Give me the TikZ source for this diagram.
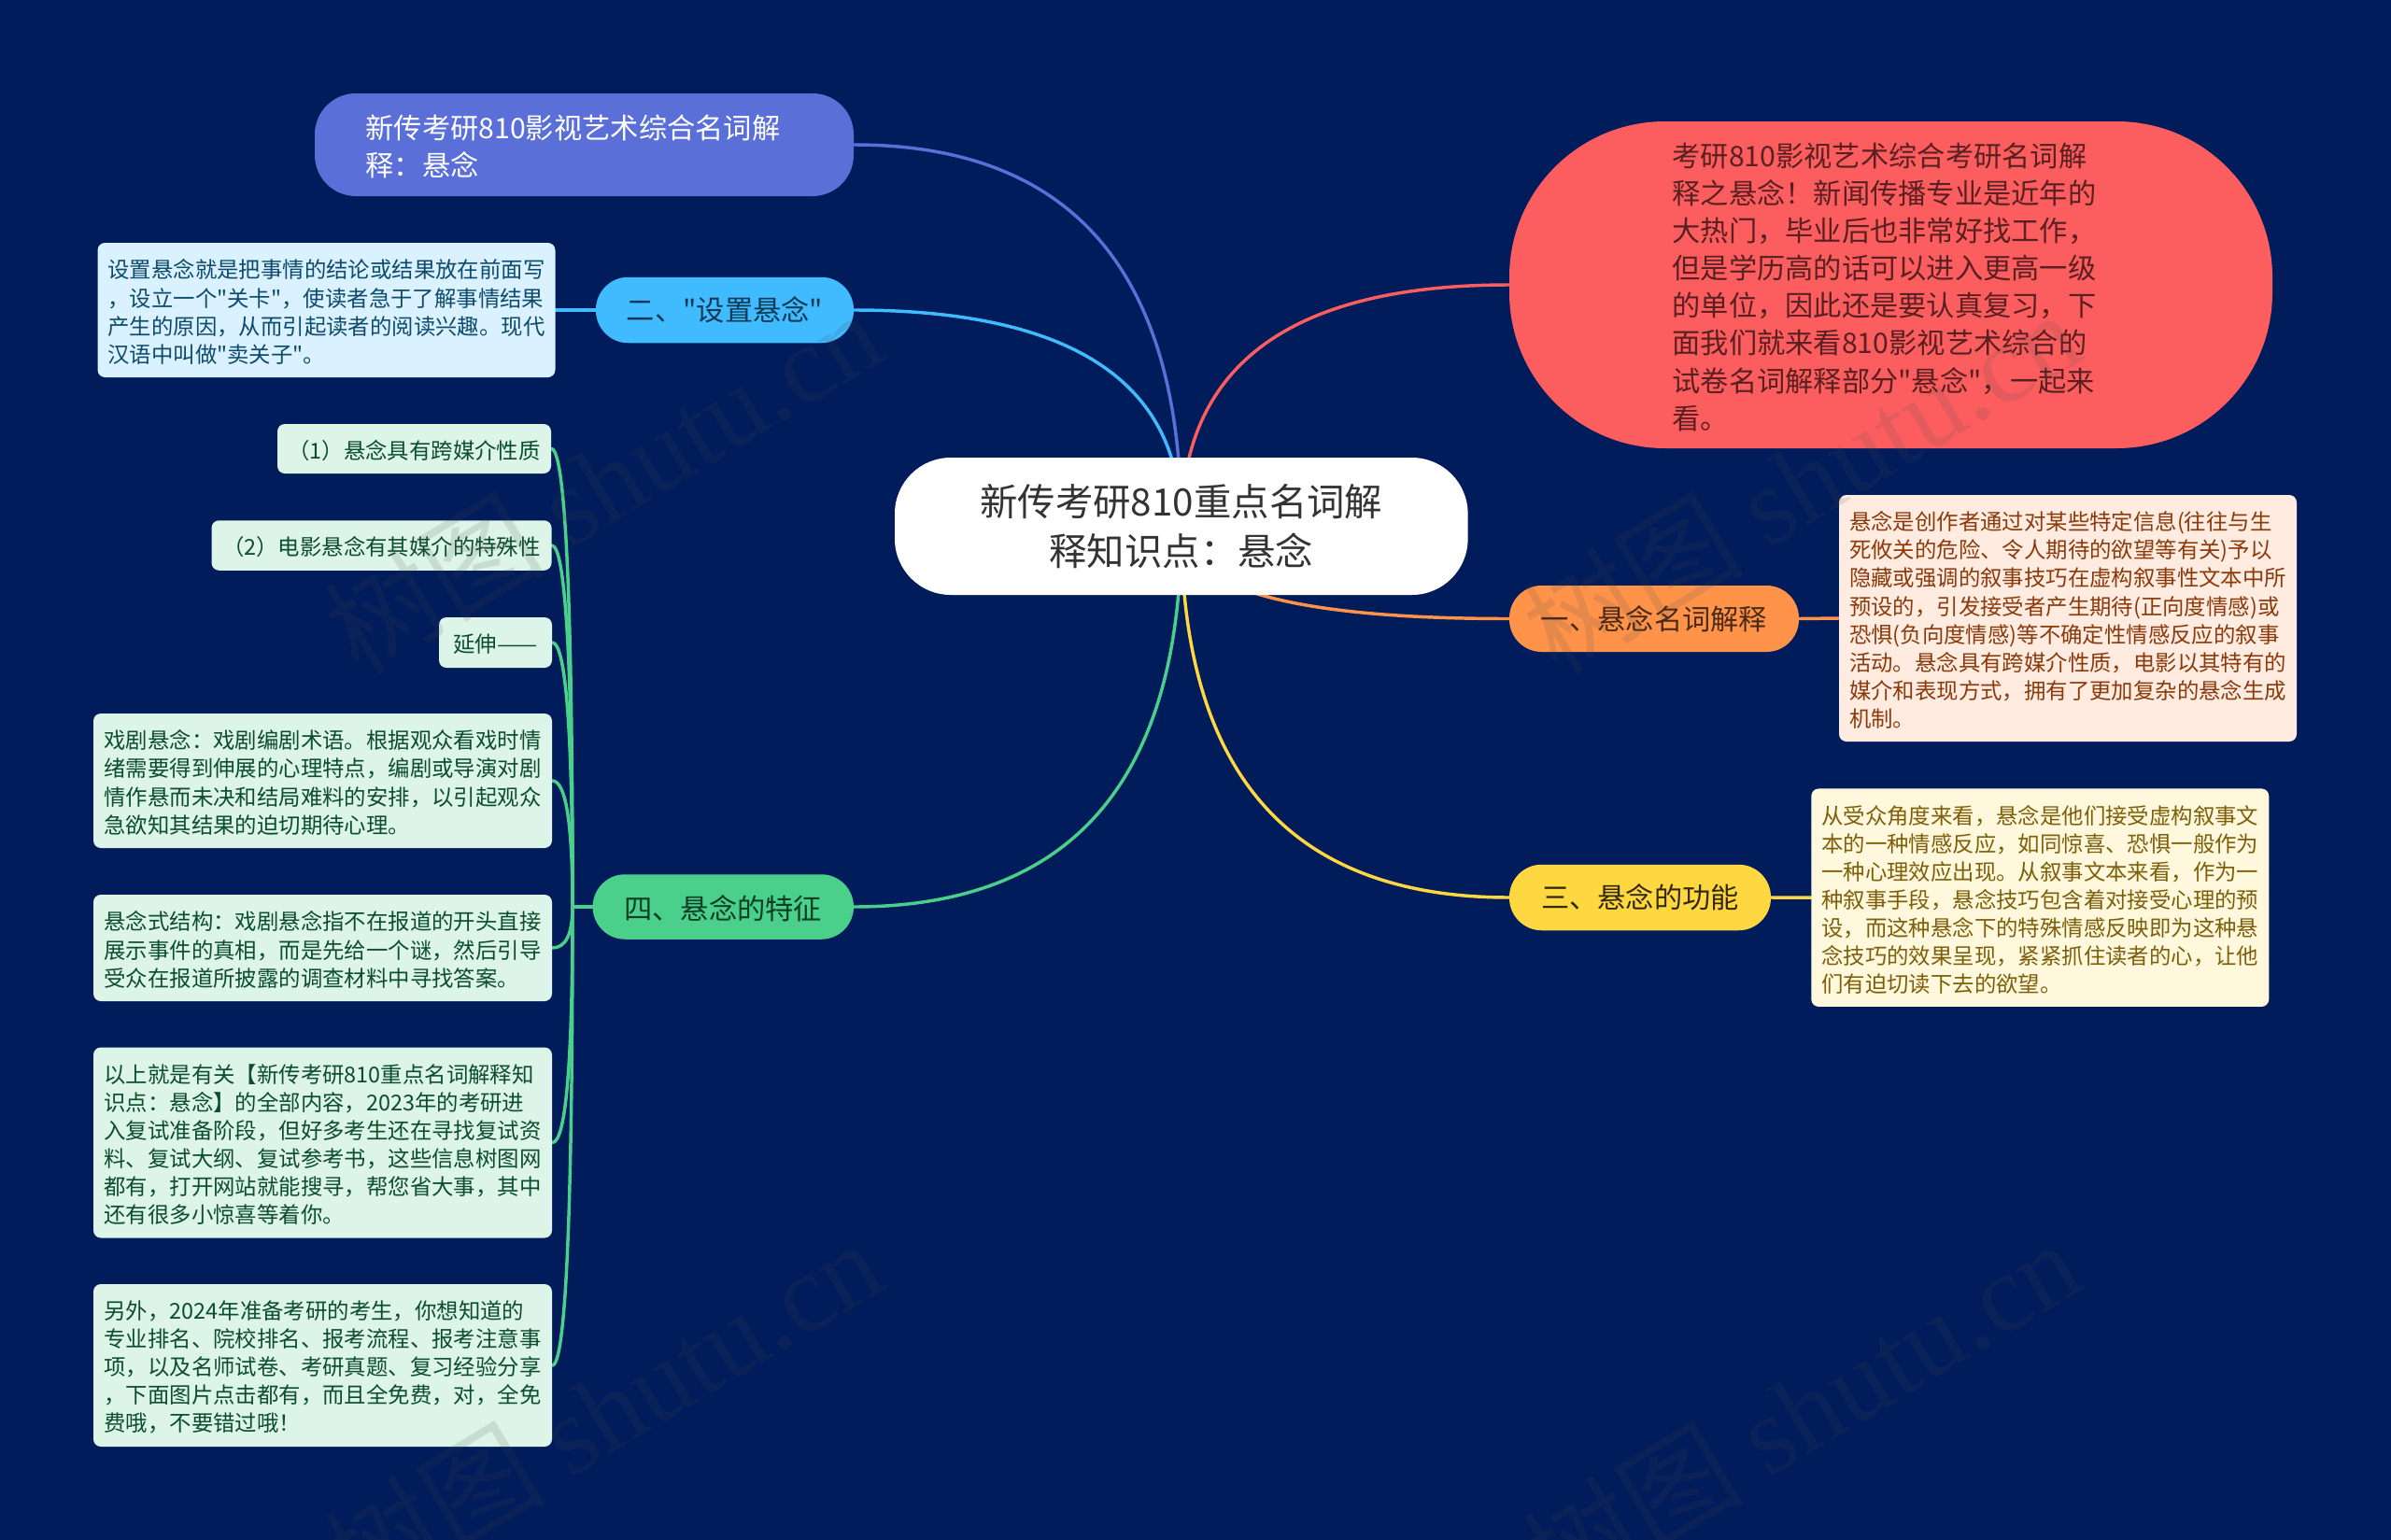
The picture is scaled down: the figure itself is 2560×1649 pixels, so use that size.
\documentclass[tikz,border=0pt]{standalone}
\usepackage{fontspec}
\setmainfont{Noto Sans CJK SC}[Ligatures=TeXOff]
\newfontfamily\wmlatin{Liberation Serif}
\usetikzlibrary{calc}
\pgfdeclarelayer{bg}
\pgfsetlayers{bg,main}
\definecolor{canvas}{HTML}{001C5A}
\definecolor{cTitle}{HTML}{5A6FD8}
\definecolor{cTwo}{HTML}{41BBFF}
\definecolor{cRed}{HTML}{FC5E5F}
\definecolor{cOrange}{HTML}{FF934A}
\definecolor{cYellow}{HTML}{FFD740}
\definecolor{cGreen}{HTML}{4BD08C}
\definecolor{bTwo}{HTML}{DAF2FF}
\definecolor{tTwo}{HTML}{0D4A6B}
\definecolor{bGreen}{HTML}{DDF5E8}
\definecolor{tGreen}{HTML}{0B4D2C}
\definecolor{bOrange}{HTML}{FFEBE0}
\definecolor{tOrange}{HTML}{8A3A0B}
\definecolor{bYellow}{HTML}{FFF8DC}
\definecolor{tYellow}{HTML}{7D5F0A}
\definecolor{mTwo}{HTML}{0E3A55}
\definecolor{mRed}{HTML}{5A1F20}
\definecolor{mOrange}{HTML}{4A2A14}
\definecolor{mYellow}{HTML}{33290A}
\definecolor{mGreen}{HTML}{0C3D25}
\definecolor{wmInk}{HTML}{4D4D4D}
\tikzset{
  sized/.style 2 args={minimum width=#1*0.75pt,minimum height=#2*0.75pt},
  base/.style={rectangle,inner sep=0pt,align=left},
  small/.style={base,rounded corners=6pt,font=\fontsize{17.55pt}{22.55pt}\selectfont},
  mid/.style={base,font=\fontsize{22.7pt}{30.1pt}\selectfont},
  wide/.style={text width=351pt},
  note/.style={small,wide},
  conn/.style={line width=2.6pt,line cap=round},
  qv/.style={to path={.. controls ($(\tikztostart)!.667!(\tikztostart|-\tikztotarget)$) and ($(\tikztotarget)!.667!(\tikztostart|-\tikztotarget)$) .. (\tikztotarget)}},
  wm/.style={rotate=31,text=wmInk,opacity=.14,inner sep=0pt,font=\fontsize{89pt}{89pt}\selectfont},
}
\newcommand{\wmtext}{树图 {\wmlatin shutu.cn}}
\newcommand{\upS}{\rule{0pt}{18pt}}
\newcommand{\upM}{\rule{0pt}{22.5pt}}
\begin{document}
\begin{tikzpicture}[x=0.75pt,y=-0.75pt]
\useasboundingbox (0,0) rectangle (2560,1649);
% central topic
\node[base,fill=white,sized={613.6}{147},rounded corners=45pt,align=center,text=black!80,font=\fontsize{30.3pt}{40.2pt}\selectfont] (root) at (1264.8,563.5) {新传考研810重点名词解\\释知识点：悬念};
% main branches
\node[mid,wide,fill=cTitle,sized={577}{110},rounded corners=33pt,text=white] (title) at (625.5,155) {\upM 新传考研810影视艺术综合名词解\\释：悬念};
\node[mid,fill=cTwo,sized={276}{70.5},rounded corners=26pt,text=mTwo] (two) at (776,332) {二、"设置悬念"};
\node[mid,wide,fill=cRed,sized={817}{350},rounded corners=125pt,text=mRed] (red) at (2024.5,305) {\upM 考研810影视艺术综合考研名词解\\释之悬念！新闻传播专业是近年的\\大热门，毕业后也非常好找工作，\\但是学历高的话可以进入更高一级\\的单位，因此还是要认真复习，下\\面我们就来看810影视艺术综合的\\试卷名词解释部分"悬念"，一起来\\看。};
\node[mid,fill=cOrange,sized={310}{71},rounded corners=26pt,text=mOrange] (one) at (1771,662.5) {一、悬念名词解释};
\node[mid,fill=cYellow,sized={280}{70.5},rounded corners=26pt,text=mYellow] (three) at (1756,961) {三、悬念的功能};
\node[mid,fill=cGreen,sized={279.4}{69.5},rounded corners=26pt,text=mGreen] (four) at (774.3,971) {\upM 四、悬念的特征};
% detail boxes
\node[note,fill=bTwo,text=tTwo,sized={490}{144}] (twoA) at (349.5,332) {\upS 设置悬念就是把事情的结论或结果放在前面写\\，设立一个"关卡"，使读者急于了解事情结果\\产生的原因，从而引起读者的阅读兴趣。现代\\汉语中叫做"卖关子"。};
\node[note,fill=bOrange,text=tOrange,sized={490}{264}] (oneA) at (2214,662) {\upS 悬念是创作者通过对某些特定信息(往往与生\\死攸关的危险、令人期待的欲望等有关)予以\\隐藏或强调的叙事技巧在虚构叙事性文本中所\\预设的，引发接受者产生期待(正向度情感)或\\恐惧(负向度情感)等不确定性情感反应的叙事\\活动。悬念具有跨媒介性质，电影以其特有的\\媒介和表现方式，拥有了更加复杂的悬念生成\\机制。};
\node[note,fill=bYellow,text=tYellow,sized={490}{233.5}] (threeA) at (2184.3,961.2) {\upS 从受众角度来看，悬念是他们接受虚构叙事文\\本的一种情感反应，如同惊喜、恐惧一般作为\\一种心理效应出现。从叙事文本来看，作为一\\种叙事手段，悬念技巧包含着对接受心理的预\\设，而这种悬念下的特殊情感反映即为这种悬\\念技巧的效果呈现，紧紧抓住读者的心，让他\\们有迫切读下去的欲望。};
\node[small,fill=bGreen,text=tGreen,sized={293}{53}] (g1) at (443.5,480.5) {\upS（1）悬念具有跨媒介性质};
\node[small,fill=bGreen,text=tGreen,sized={364}{53.5}] (g2) at (408.5,584) {\upS（2）电影悬念有其媒介的特殊性};
\node[small,fill=bGreen,text=tGreen,sized={121}{54}] (g3) at (530.5,688) {\upS 延伸\scalebox{1.1}[1]{——}};
\node[note,fill=bGreen,text=tGreen,sized={491}{144}] (g4) at (345.5,836) {\upS 戏剧悬念：戏剧编剧术语。根据观众看戏时情\\绪需要得到伸展的心理特点，编剧或导演对剧\\情作悬而未决和结局难料的安排，以引起观众\\急欲知其结果的迫切期待心理。};
\node[note,fill=bGreen,text=tGreen,sized={491}{114}] (g5) at (345.5,1015) {\upS 悬念式结构：戏剧悬念指不在报道的开头直接\\展示事件的真相，而是先给一个谜，然后引导\\受众在报道所披露的调查材料中寻找答案。};
\node[note,fill=bGreen,text=tGreen,sized={491}{204}] (g6) at (345.5,1223.5) {\upS 以上就是有关【新传考研810重点名词解释知\\识点：悬念】的全部内容，2023年的考研进\\入复试准备阶段，但好多考生还在寻找复试资\\料、复试大纲、复试参考书，这些信息树图网\\都有，打开网站就能搜寻，帮您省大事，其中\\还有很多小惊喜等着你。};
\node[note,fill=bGreen,text=tGreen,sized={491}{174}] (g7) at (345.5,1462) {\upS 另外，2024年准备考研的考生，你想知道的\\专业排名、院校排名、报考流程、报考注意事\\项，以及名师试卷、考研真题、复习经验分享\\，下面图片点击都有，而且全免费，对，全免\\费哦，不要错过哦！};
\coordinate (fork) at ([xshift=-16pt]four.west);
\begin{pgfonlayer}{bg}
\fill[canvas] (0,0) rectangle (2560,1649);
\draw[conn,cTitle] (root.center) to[qv] (title.east);
\draw[conn,cTwo] (root.center) to[qv] (two.east);
\draw[conn,cRed] (root.center) to[qv] (red.west);
\draw[conn,cOrange] (root.center) to[qv] (one.west);
\draw[conn,cYellow] (root.center) to[qv] (three.west);
\draw[conn,cGreen] (root.center) to[qv] (four.east);
\draw[conn,cTwo] (two.west) -- (twoA.east);
\draw[conn,cOrange] (one.east) -- (oneA.west);
\draw[conn,cYellow] (three.east) -- (threeA.west);
\draw[conn,cGreen] (four.west) -- (fork);
\foreach \leaf in {g1,g2,g3,g4,g5,g6,g7}{
  \draw[conn,cGreen] (fork) to[qv] (\leaf.east);
}
\end{pgfonlayer}
% watermarks
\node[wm] (wm1) at (645,515) {\wmtext};
\node[wm] (wm2) at (1928,515) {\wmtext};
\node[wm] (wm3) at (645,1510) {\wmtext};
\node[wm] (wm4) at (1928,1510) {\wmtext};
\end{tikzpicture}
\end{document}
